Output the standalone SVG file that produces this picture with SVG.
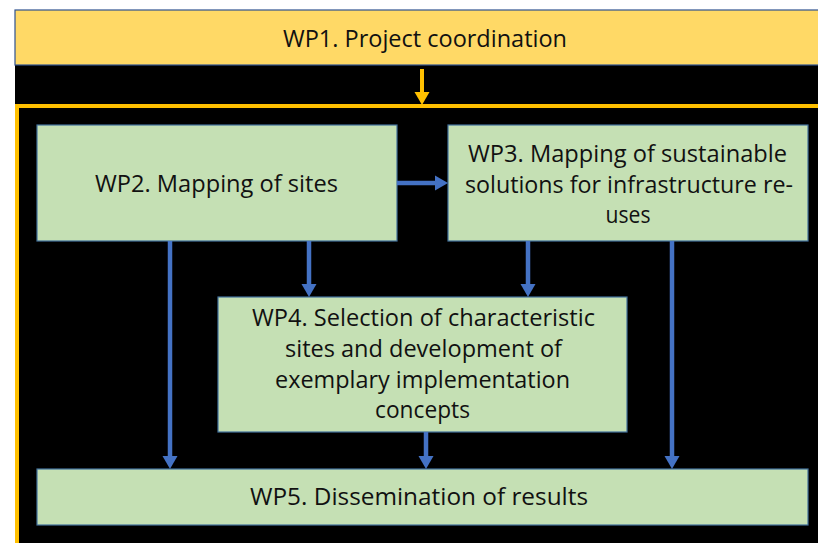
<svg xmlns="http://www.w3.org/2000/svg" width="818" height="543" viewBox="0 0 818 543">
  <style>
    .lbl { font-family: "Open Sans", "Noto Sans", "Liberation Sans", sans-serif; font-size: 23.5px; fill: #111; text-anchor: middle; }
    .wp1 { fill: #FFD966; stroke: #2F528F; stroke-width: 1.2; }
    .wp { fill: #C5E0B4; stroke: #41719C; stroke-width: 1.2; }
    .blue { stroke: #4472C4; stroke-width: 4.5; fill: none; marker-end: url(#headBlue); }
    .gold { stroke: #FFC000; stroke-width: 4; fill: none; marker-end: url(#headGold); }
  </style>
  <defs>
    <marker id="headBlue" markerUnits="userSpaceOnUse" viewBox="0 -8 14 16" markerWidth="14" markerHeight="16" refX="0" refY="0" orient="auto" overflow="visible">
      <path d="M0,-7.5 L13,0 L0,7.5 Z" fill="#4472C4"/>
    </marker>
    <marker id="headGold" markerUnits="userSpaceOnUse" viewBox="0 -8 14 16" markerWidth="14" markerHeight="16" refX="0" refY="0" orient="auto" overflow="visible">
      <path d="M0,-7.5 L13,0 L0,7.5 Z" fill="#FFC000"/>
    </marker>
  </defs>

  <!-- page and dark backdrop -->
  <rect x="0" y="0" width="818" height="543" fill="#FFFFFF"/>
  <rect x="15" y="10" width="803" height="533" fill="#000000"/>

  <!-- outer work-package frame -->
  <rect id="frame" x="17" y="106" width="900" height="500" fill="none" stroke="#FFC000" stroke-width="4"/>

  <g id="wp1">
    <rect class="wp1" x="15" y="10" width="820" height="55"/>
    <text class="lbl" x="425" y="47" textLength="284" lengthAdjust="spacingAndGlyphs">WP1. Project coordination</text>
  </g>

  <g id="wp2">
    <rect class="wp" x="37" y="125" width="360" height="116"/>
    <text class="lbl" x="216.5" y="192" textLength="243" lengthAdjust="spacingAndGlyphs">WP2. Mapping of sites</text>
  </g>

  <g id="wp3">
    <rect class="wp" x="448" y="125" width="360" height="116"/>
    <text class="lbl" x="627.5" y="162" textLength="319" lengthAdjust="spacingAndGlyphs">WP3. Mapping of sustainable</text>
    <text class="lbl" x="629" y="193" textLength="328" lengthAdjust="spacingAndGlyphs">solutions for infrastructure re-</text>
    <text class="lbl" x="628" y="223" textLength="45" lengthAdjust="spacingAndGlyphs">uses</text>
  </g>

  <g id="wp4">
    <rect class="wp" x="218" y="297" width="409" height="135"/>
    <text class="lbl" x="423.5" y="326" textLength="343" lengthAdjust="spacingAndGlyphs">WP4. Selection of characteristic</text>
    <text class="lbl" x="423.5" y="357" textLength="277" lengthAdjust="spacingAndGlyphs">sites and development of</text>
    <text class="lbl" x="422.5" y="388" textLength="295" lengthAdjust="spacingAndGlyphs">exemplary implementation</text>
    <text class="lbl" x="422.5" y="418" textLength="95" lengthAdjust="spacingAndGlyphs">concepts</text>
  </g>

  <g id="wp5">
    <rect class="wp" x="37" y="469" width="771" height="56"/>
    <text class="lbl" x="419" y="505" textLength="338" lengthAdjust="spacingAndGlyphs">WP5. Dissemination of results</text>
  </g>

  <g id="connectors">
    <line class="gold" x1="422" y1="69" x2="422" y2="92"/>
    <line class="blue" x1="397" y1="183" x2="435" y2="183"/>
    <line class="blue" x1="170" y1="241" x2="170" y2="456"/>
    <line class="blue" x1="309" y1="241" x2="309" y2="284"/>
    <line class="blue" x1="528" y1="241" x2="528" y2="284"/>
    <line class="blue" x1="672" y1="241" x2="672" y2="456"/>
    <line class="blue" x1="426" y1="432" x2="426" y2="456"/>
  </g>
</svg>
